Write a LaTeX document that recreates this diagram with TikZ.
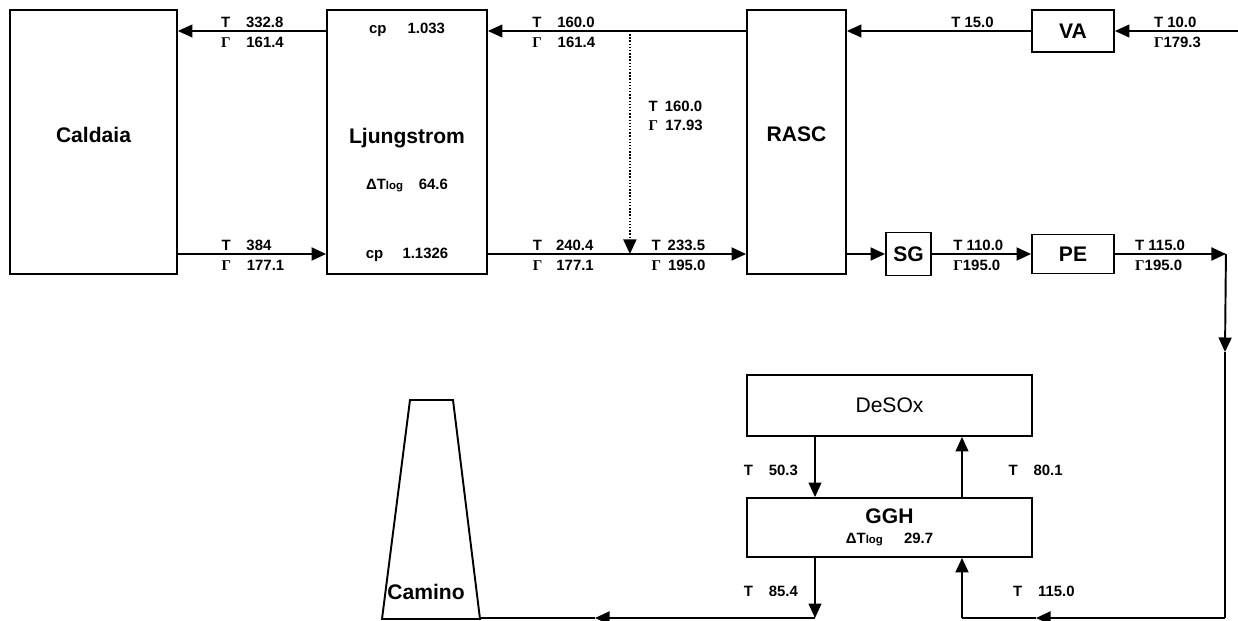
\documentclass[tikz,border=0pt]{standalone}
\usepackage{fontspec}
\setmainfont{Liberation Sans}
\newfontfamily\gammafont{Liberation Serif}
\usetikzlibrary{arrows.meta,calc}
\newcommand\Gm{{\gammafont\bfseries Γ}}
\newcommand\dTlog{ΔT{\fontsize{6.5}{7}\selectfont log}}
\tikzset{
  unit/.style={draw,line width=1.1pt,inner sep=0pt,font=\fontsize{12}{14}\selectfont\bfseries},
  val/.style={font=\fontsize{8.5}{11}\selectfont\bfseries,inner sep=1.5pt,align=left},
  tv/.style={val,anchor=south west},
  gv/.style={val,anchor=north west,yshift=-.05cm},
  air/.style={-{Triangle[length=2.9mm,width=2.6mm]},line width=.6pt},
  gas/.style={-{Triangle[length=2.9mm,width=2.6mm]},line width=1.1pt},
  duct/.style={line width=1.1pt}
}

\begin{document}
\begin{tikzpicture}[x=0.02cm,y=-0.02cm]
  \useasboundingbox (0,0) rectangle (1238,621);
  \clip (0,0) rectangle (1238,621);

  % equipment
  \node[unit,minimum width=3.34cm,minimum height=5.28cm,text depth=1.6ex] (caldaia) at (93.5,142) {Caldaia};
  \node[unit,minimum width=3.2cm,minimum height=5.28cm,text depth=1.4ex] (ljung) at (407,142) {Ljungstrom};
  \node[unit,minimum width=1.98cm,minimum height=5.28cm,text depth=1.6ex] (rasc) at (796.5,142) {RASC};
  \node[unit,minimum width=1.64cm,minimum height=.84cm] (va) at (1073,31) {VA};
  \node[unit,minimum width=.9cm,minimum height=.86cm] (sg) at (908.5,254) {SG};
  \node[unit,minimum width=1.64cm,minimum height=.78cm] (pe) at (1073,254) {PE};
  \node[unit,minimum width=5.7cm,minimum height=1.22cm,font=\fontsize{12}{14}\selectfont] (desox) at (889.5,405.5) {DeSOx};
  \node[unit,minimum width=5.7cm,minimum height=1.18cm,align=center] (ggh) at (889.5,527.5)
    {GGH\\[-3pt]{\fontsize{8.5}{10}\selectfont\dTlog\hspace{12pt}29.7}};

  \node[val] (cpin) at ($(ljung.north)+(0,21)$) {cp\hspace{12pt}1.033};
  \node[val] (dtl) at ($(ljung.north)+(0,176)$) {\dTlog\hspace{9pt}64.6};
  \node[val] (cpout) at ($(ljung.north)+(0,246)$) {cp\hspace{11pt}1.1326};

  % camino
  \draw[duct] (382,619) -- (410,400) -- (453,400) -- (480,619) -- cycle;
  \node[font=\fontsize{12}{14}\selectfont\bfseries] (camino) at (426,592) {Camino};
  \coordinate (stack) at (480,618);

  % air side
  \coordinate (intake) at ([xshift=2.48cm]va.east);
  \draw[air] (intake) -- node[tv,pos=.71]{T 10.0} node[gv,pos=.71]{\Gm179.3} (va.east);
  \draw[air] (va.west) -- node[tv,pos=.45]{T 15.0} (va.west -| rasc.east);
  \draw[air] (rasc.west |- va.west) -- node[tv,pos=.84]{T\hspace{9pt}160.0}
    node[gv,pos=.84]{\Gm\hspace{9pt}161.4} (ljung.east |- va.west);
  \draw[air] (ljung.west |- va.west) -- node[tv,pos=.73]{T\hspace{9pt}332.8}
    node[gv,pos=.73]{\Gm\hspace{9pt}161.4} (caldaia.east |- va.west);

  % gas side
  \draw[gas] (caldaia.east |- pe.west) -- node[tv,pos=.27]{T\hspace{9pt}384}
    node[gv,pos=.27]{\Gm\hspace{9pt}177.1} (ljung.west |- pe.west);
  \draw[gas] (ljung.east |- pe.west) -- node[tv,pos=.16]{T\hspace{8pt}240.4}
    node[gv,pos=.16]{\Gm\hspace{8pt}177.1} node[tv,pos=.62]{T\hspace{4pt}233.5}
    node[gv,pos=.62]{\Gm\hspace{4pt}195.0} (rasc.west |- pe.west);
  \coordinate (split) at ($(ljung.east |- va.west)!.55!(rasc.west |- va.west)$);
  \draw[air,line width=.8pt,densely dotted] (split) -- node[val,anchor=west,pos=.38,xshift=.31cm]
    {T\hspace{4pt}160.0\\\Gm\hspace{4pt}17.93} (split |- pe.west);
  \draw[gas] (rasc.east |- sg.west) -- (sg.west);
  \draw[gas] (sg.east) -- node[tv,pos=.18]{T 110.0} node[gv,pos=.18]{\Gm195.0} (pe.west);
  \coordinate (bend) at ([xshift=2.22cm]pe.east);
  \draw[gas] (pe.east) -- node[tv,pos=.15]{T 115.0} node[gv,pos=.15]{\Gm195.0} (bend);
  \coordinate (drop) at (1225,352);
  \coordinate (corner) at (1225,618);
  \draw[gas] (bend) -- (drop);
  \draw[duct] (drop) -- (corner);
  \coordinate (ret) at (1036,618);
  \coordinate (rise) at (962,618);
  \coordinate (fall) at (815,618);
  \draw[gas] (corner) -- (ret);
  \draw[duct] (ret) -- (rise);
  \draw[gas] (rise) -- node[val,anchor=west,pos=.44,xshift=.95cm]{T\hspace{9pt}115.0} (rise |- ggh.south);
  \draw[air] (rise |- ggh.north) -- node[val,anchor=west,pos=.45,xshift=.87cm]{T\hspace{9pt}80.1} (rise |- desox.south);
  \draw[air] (fall |- desox.south) -- node[val,anchor=east,pos=.55,xshift=-.28cm]{T\hspace{9pt}50.3} (fall |- ggh.north);
  \draw[air] (fall |- ggh.south) -- node[val,anchor=east,pos=.56,xshift=-.28cm]{T\hspace{9pt}85.4} (fall);
  \coordinate (vent) at (595,618);
  \draw[gas] (fall) -- (vent);
  \draw[duct] (vent) -- (stack);
\end{tikzpicture}
\end{document}
